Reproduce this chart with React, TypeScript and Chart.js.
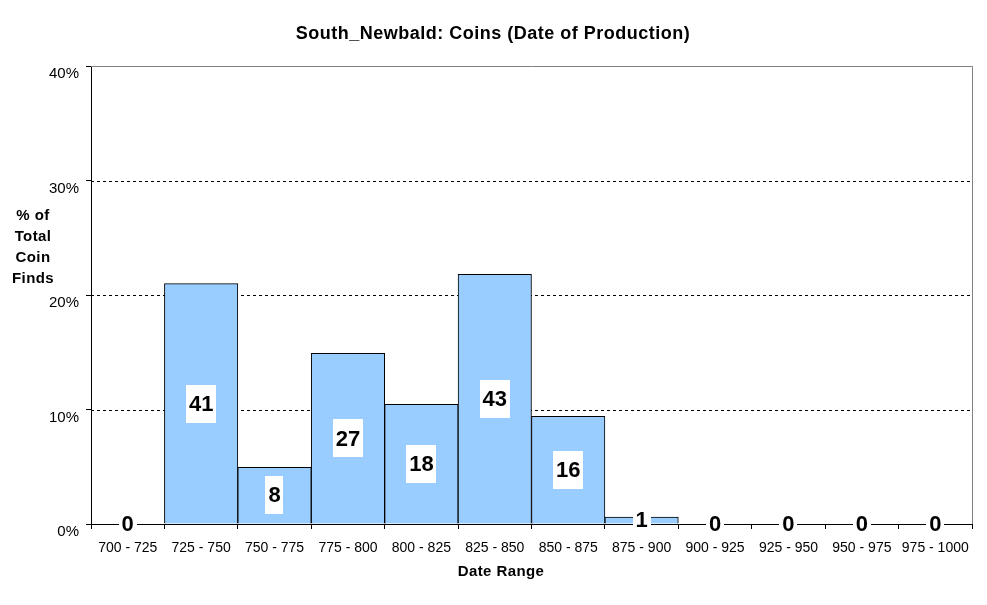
import React, { useEffect, useRef } from "react";
import { Chart, registerables } from "chart.js";

Chart.register(...registerables);

const categories = [
  "700 - 725", "725 - 750", "750 - 775", "775 - 800", "800 - 825", "825 - 850",
  "850 - 875", "875 - 900", "900 - 925", "925 - 950", "950 - 975", "975 - 1000",
];
const percentValues = [0, 21.0, 4.95, 14.9, 10.45, 21.8, 9.4, 0.6, 0, 0, 0, 0];
const countLabels = [0, 41, 8, 27, 18, 43, 16, 1, 0, 0, 0, 0];
const yTicks = [0, 10, 20, 30, 40];
const gridDashedValues = [10, 20, 30];
const titleText = "South_Newbald: Coins (Date of Production)";
const xTitle = "Date Range";
const yTitleLines = ["% of", "Total", "Coin", "Finds"];

const FONT = "'Liberation Sans', Arial, sans-serif";

const decorPlugin = {
  id: "decor",
  beforeDatasetsDraw(chart: any) {
    const { ctx, chartArea } = chart;
    const y = chart.scales.y;
    ctx.save();
    ctx.strokeStyle = "#000";
    ctx.lineWidth = 1;
    ctx.setLineDash([3, 3]);
    for (const v of gridDashedValues) {
      const py = Math.round(y.getPixelForValue(v)) + 0.5;
      ctx.beginPath();
      ctx.moveTo(chartArea.left, py);
      ctx.lineTo(chartArea.right, py);
      ctx.stroke();
    }
    ctx.setLineDash([]);
    ctx.strokeStyle = "#808080";
    const top = Math.round(chartArea.top) + 0.5;
    const right = Math.round(chartArea.right) + 0.5;
    ctx.beginPath();
    ctx.moveTo(chartArea.left, top);
    ctx.lineTo(right, top);
    ctx.lineTo(right, chartArea.bottom);
    ctx.stroke();
    ctx.restore();
  },
  afterDatasetsDraw(chart: any) {
    const { ctx } = chart;
    const meta = chart.getDatasetMeta(0);
    ctx.save();
    ctx.font = `bold 22px ${FONT}`;
    ctx.textAlign = "center";
    ctx.textBaseline = "middle";
    meta.data.forEach((el: any, i: number) => {
      const p = el.getProps(["x", "y", "base"], true);
      const cy = (p.y + p.base) / 2;
      const txt = String(countLabels[i]);
      const w = ctx.measureText(txt).width + 6;
      const h = 38;
      ctx.fillStyle = "#fff";
      ctx.fillRect(Math.round(p.x - w / 2), Math.round(cy - h / 2), Math.round(w), h);
      ctx.fillStyle = "#000";
      ctx.fillText(txt, p.x, cy + 1);
    });
    ctx.restore();
  },
  afterDraw(chart: any) {
    const { ctx } = chart;
    ctx.save();
    ctx.fillStyle = "#000";
    ctx.textAlign = "center";
    ctx.textBaseline = "middle";
    ctx.font = `bold 18px ${FONT}`;
    (ctx as any).letterSpacing = "0.5px";
    ctx.fillText(titleText, 493, 34);
    ctx.font = `bold 15px ${FONT}`;
    (ctx as any).letterSpacing = "0.4px";
    ctx.fillText(xTitle, 501, 572);
    yTitleLines.forEach((line, i) => {
      ctx.fillText(line, 33, 216 + i * 21);
    });
    ctx.restore();
  },
};

export default function App() {
  const canvasRef = useRef<HTMLCanvasElement | null>(null);

  useEffect(() => {
    if (!canvasRef.current) return;
    const chart = new Chart(canvasRef.current, {
      type: "bar",
      data: {
        labels: categories,
        datasets: [
          {
            data: percentValues,
            backgroundColor: "#99CCFF",
            borderColor: "#000000",
            borderWidth: 1,
            barPercentage: 1,
            categoryPercentage: 1,
          },
        ],
      },
      options: {
        animation: false,
        responsive: true,
        maintainAspectRatio: false,
        layout: { padding: { left: 0, right: 15, top: 66, bottom: 0 } },
        plugins: {
          legend: { display: false },
          title: { display: false },
          tooltip: { enabled: false },
        },
        scales: {
          x: {
            offset: true,
            grid: {
              display: true,
              offset: true,
              drawOnChartArea: false,
              drawTicks: true,
              tickLength: 5,
              tickColor: "#000",
              color: "#000",
            },
            border: { display: true, color: "#000", width: 1 },
            ticks: {
              color: "#000",
              font: { family: FONT, size: 14 },
              padding: 11,
              maxRotation: 0,
              autoSkip: false,
              z: 1,
            },
            afterFit(scale: any) {
              scale.height = 81;
            },
          },
          y: {
            min: 0,
            max: 40,
            afterBuildTicks(scale: any) {
              scale.ticks = yTicks.map((v) => ({ value: v }));
            },
            grid: {
              display: true,
              drawOnChartArea: false,
              drawTicks: true,
              tickLength: 5,
              tickColor: "#000",
              color: "#000",
            },
            border: { display: true, color: "#000", width: 1 },
            ticks: {
              color: "#000",
              font: { family: FONT, size: 15 },
              padding: 7,
              labelOffset: 8,
              callback: (v: any) => `${v}%`,
            },
            afterFit(scale: any) {
              scale.width = 91;
            },
          },
        },
      },
      plugins: [decorPlugin],
    });
    return () => chart.destroy();
  }, []);

  return (
    <div style={{ position: "absolute", left: 0, top: 0, width: 987, height: 605, background: "#fff" }}>
      <canvas ref={canvasRef} />
    </div>
  );
}
